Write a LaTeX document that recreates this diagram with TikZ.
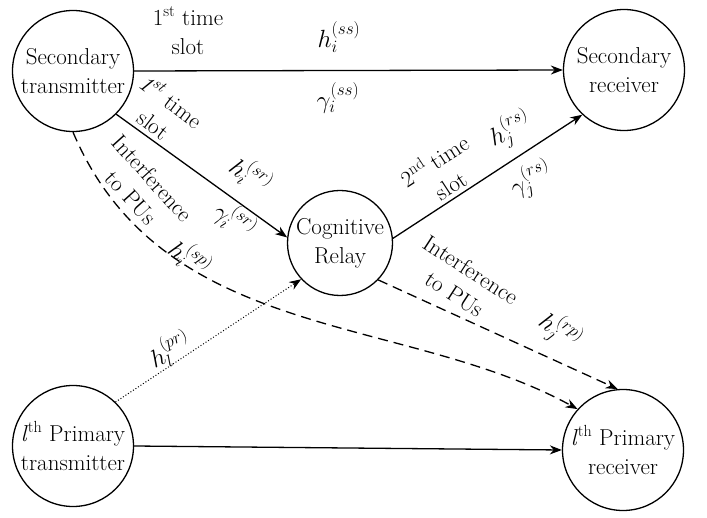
\documentclass[tikz,border=0pt]{standalone}
\usepackage{fontspec}
\usetikzlibrary{arrows.meta}
\newcommand\chan[3]{$#1_{#2}^{(#3)}$}
\begin{document}
\begin{tikzpicture}[x=1pt,y=-1pt,
  txt/.style={font=\fontsize{23}{29}\selectfont},
  dev/.style={txt, draw, circle, line width=1.3pt, minimum size=121pt, inner sep=0pt, align=center},
  relay/.style={dev, minimum size=105pt},
  link/.style={line width=1.3pt, -{Stealth[length=12pt,width=9pt]}},
  intf/.style={link, dash pattern=on 10pt off 6pt},
  dots/.style={line width=1pt, dash pattern=on 1pt off 2pt, -{Stealth[length=12pt,width=9pt]}},
  lbl/.style={txt, inner sep=0pt, align=center},
  ]
\path[use as bounding box] (0,0) rectangle (707,518);

\node[dev] (ST) at (73,71) {Secondary\\transmitter};
\node[dev] (SR) at (624,70) {Secondary\\receiver};
\node[relay] (CR) at (340,243) {Cognitive\\Relay};
\node[dev] (PT) at (73,446) {\textit{l}\textsuperscript{th} Primary\\transmitter};
\node[dev] (PR) at (623,450) {\textit{l}\textsuperscript{th} Primary\\receiver};

\draw[link] (ST.east) -- (SR.west);
\draw[link] (ST.-45) -- (CR.174);
\draw[link] (CR.5) -- (SR.227);
\draw[link] (PT.east) -- (PR.west);
\draw[dots] (PT.46) -- (CR.223);
\draw[intf] (CR.-44) -- (PR.95);
\draw[intf] (ST.south) .. controls +(90,212) and +(-175,-96) .. (PR.138);

\node[lbl] (l1) at (188,31) {1\textsuperscript{st} time\\slot};
\node[lbl] (hss) at (339,37) {\chan{h}{i}{ss}};
\node[lbl] (gss) at (338,98) {\chan{\gamma}{i}{ss}};
\node[lbl, rotate=-37] (l2) at (163,112) {\textit{1}\textsuperscript{\textit{st}} time\\slot};
\node[lbl, rotate=-38] (hsr) at (251,175) {\chan{h}{i}{sr}};
\node[lbl, rotate=-38] (gsr) at (235,220) {\chan{\gamma}{i}{sr}};
\node[lbl, rotate=-48] (i1) at (142,188) {Interference\\to PUs};
\node[lbl, rotate=-40] (hsp) at (190,258) {\chan{h}{i}{sp}};
\node[lbl, rotate=33] (l3) at (442,172) {2\textsuperscript{nd} time\\slot};
\node[lbl, rotate=22] (hrs) at (510,130) {\chan{h}{j}{rs}};
\node[lbl, rotate=22] (grs) at (531,180) {\chan{\gamma}{j}{rs}};
\node[lbl, rotate=-33] (i2) at (463,282) {Interference\\to PUs};
\node[lbl, rotate=-38] (hrp) at (560,331) {\chan{h}{j}{rp}};
\node[lbl, rotate=25] (hpr) at (170,350) {\chan{h}{l}{pr}};
\end{tikzpicture}
\end{document}
